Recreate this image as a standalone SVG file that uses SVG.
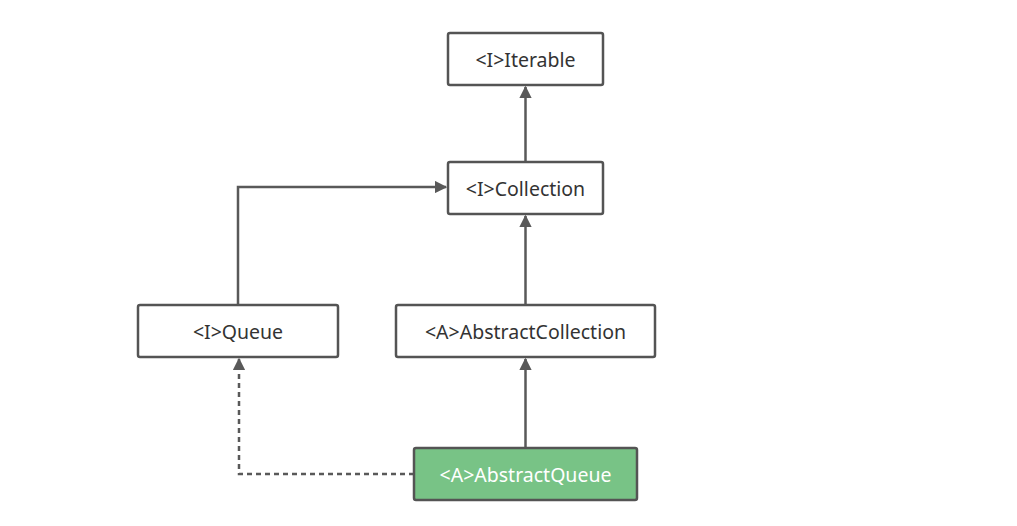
<svg xmlns="http://www.w3.org/2000/svg" width="1017" height="526" viewBox="0 0 1017 526">
<style>
.box{fill:#fff;stroke:#545454;stroke-width:2.5}
.hl{fill:#78c386}
.t{font-family:"Noto Sans","Open Sans",sans-serif;font-size:19.5px;fill:#333;text-anchor:middle;dominant-baseline:central}
.tw{fill:#fff}
.c{fill:none;stroke:#595959;stroke-width:2.5}
.d{stroke-dasharray:5,4}
</style>
<defs>
<marker id="ar" viewBox="0 0 10 10" refX="9" refY="5" markerWidth="5" markerHeight="5" orient="auto" markerUnits="strokeWidth"><path d="M0,0 L10,5 L0,10 z" fill="#595959"/></marker>
</defs>
<rect width="1017" height="526" fill="#fff"/>
<g id="connectors">
<path class="c" d="M525.5,162 L525.5,87" marker-end="url(#ar)"/>
<path class="c" d="M238,305 L238,187 L446,187" marker-end="url(#ar)"/>
<path class="c" d="M525.5,305 L525.5,216" marker-end="url(#ar)"/>
<path class="c" d="M525.5,448 L525.5,359" marker-end="url(#ar)"/>
<path class="c d" d="M414,474 L239,474 L239,359" marker-end="url(#ar)"/>
</g>
<g id="iterable"><rect class="box" x="448" y="33" width="155" height="52" rx="2"/><text class="t" x="525.5" y="59">&lt;I&gt;Iterable</text></g>
<g id="collection"><rect class="box" x="448" y="162" width="155" height="52" rx="2"/><text class="t" x="525.5" y="188">&lt;I&gt;Collection</text></g>
<g id="queue"><rect class="box" x="138" y="305" width="200" height="52" rx="2"/><text class="t" x="238" y="331">&lt;I&gt;Queue</text></g>
<g id="abstractcollection"><rect class="box" x="396" y="305" width="259" height="52" rx="2"/><text class="t" x="525.5" y="331">&lt;A&gt;AbstractCollection</text></g>
<g id="abstractqueue"><rect class="box hl" x="414" y="448" width="223" height="52" rx="2"/><text class="t tw" x="525.5" y="474">&lt;A&gt;AbstractQueue</text></g>
</svg>
